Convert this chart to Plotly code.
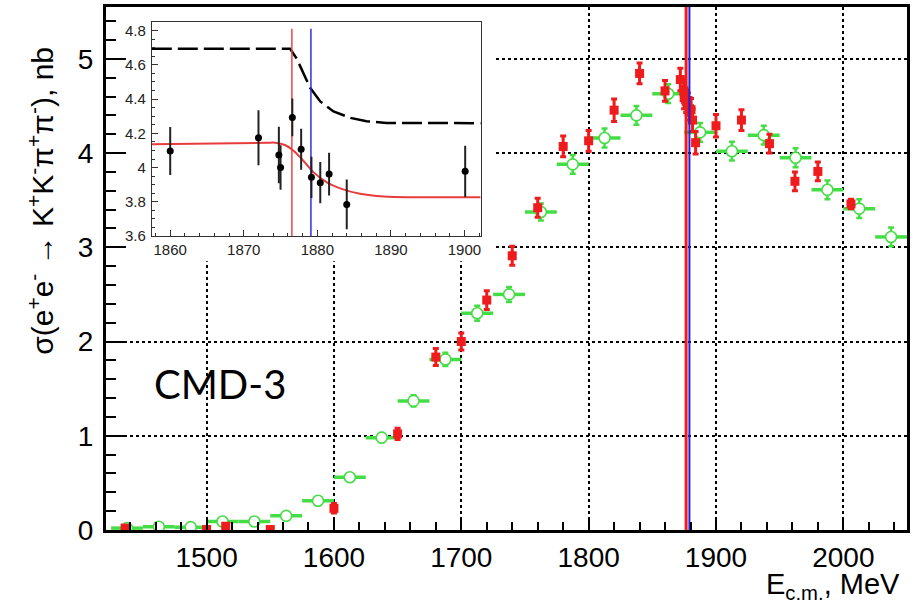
import plotly.graph_objects as go

# ---------------- data ----------------
# green: binned measurement (25 MeV bins), open circles
green_E = [1437.5, 1462.5, 1487.5, 1512.5, 1537.5, 1562.5, 1587.5, 1612.5, 1637.5,
           1662.5, 1687.5, 1712.5, 1737.5, 1762.5, 1787.5, 1812.5, 1837.5, 1862.5,
           1887.5, 1912.5, 1937.5, 1962.5, 1987.5, 2012.5, 2037.5]
green_sigma = [0.02, 0.035, 0.03, 0.09, 0.09, 0.15, 0.31, 0.56, 0.98,
               1.37, 1.81, 2.30, 2.50, 3.375, 3.88, 4.16, 4.40, 4.63,
               4.22, 4.02, 4.19, 3.95, 3.61, 3.41, 3.11]
green_err = [0.01, 0.01, 0.01, 0.02, 0.02, 0.02, 0.03, 0.04, 0.05,
             0.06, 0.07, 0.08, 0.08, 0.09, 0.10, 0.10, 0.10, 0.10,
             0.10, 0.10, 0.10, 0.10, 0.10, 0.10, 0.10]
green_halfbin = [12.5] * len(green_E)

# red: CMD-3 points
red_E = [1436, 1500, 1515, 1550, 1600, 1650, 1680, 1700, 1720, 1740, 1760, 1780,
         1800, 1820, 1840, 1860, 1872, 1874.8, 1875.0, 1876.6, 1877.8, 1879.2,
         1880.4, 1881.6, 1884.0, 1900, 1920, 1942, 1962, 1980, 2006]
red_sigma = [0.02, 0.005, 0.04, 0.005, 0.23, 1.02, 1.835, 2.0, 2.44, 2.91, 3.42, 4.07,
             4.13, 4.455, 4.845, 4.66, 4.78, 4.66, 4.59, 4.55, 4.52, 4.47,
             4.46, 4.35, 4.11, 4.29, 4.35, 4.10, 3.70, 3.805, 3.46]
red_err = [0.02, 0.01, 0.03, 0.01, 0.05, 0.06, 0.09, 0.09, 0.10, 0.10, 0.10, 0.11,
           0.11, 0.12, 0.11, 0.11, 0.12, 0.12, 0.12, 0.12, 0.12, 0.12,
           0.12, 0.12, 0.12, 0.12, 0.11, 0.10, 0.10, 0.10, 0.05]

# thresholds (2 m_p, 2 m_n), MeV
thr_pp = 1876.54
thr_nn = 1879.13

# inset points
ins_E = [1860.0, 1872.0, 1874.77, 1875.0, 1876.6, 1877.8, 1879.2, 1880.4, 1881.6, 1884.0, 1900.1]
ins_sigma = [4.097, 4.174, 4.074, 4.00, 4.293, 4.107, 3.943, 3.912, 3.962, 3.785, 3.978]
ins_err = [0.14, 0.16, 0.165, 0.13, 0.11, 0.12, 0.12, 0.12, 0.125, 0.145, 0.15]

# inset fit curve (red)
fit_E = [1857.5, 1873.1, 1874.3, 1875.6, 1876.8, 1878.1, 1879.5, 1881.3, 1883.1,
         1885.8, 1889.0, 1893.5, 1902.2]
fit_sigma = [4.136, 4.145, 4.145, 4.132, 4.097, 4.04, 3.972, 3.914, 3.879,
             3.847, 3.831, 3.827, 3.827]

# inset dashed curve (black)
dash_E = [1857.5, 1876.3, 1877.2, 1878.1, 1879.0, 1880.4, 1882.2, 1884.5, 1886.7,
          1889.4, 1902.2]
dash_sigma = [4.694, 4.694, 4.636, 4.55, 4.467, 4.386, 4.328, 4.29, 4.27,
              4.261, 4.259]

x_range = [1421, 2050]
y_range = [0, 5.55]
ins_x_range = [1857.5, 1902.2]
ins_y_range = [3.6, 4.85]
ins_vline_top = 4.81

GREEN = "#45dd45"
RED = "#ee1c1c"
BLUE = "#2020dd"
FONT = "Liberation Sans"

# white pad behind the inset (fraction of main plot area)
pad_fx, pad_fy = 0.4863, 0.514
pad_x1 = x_range[0] + pad_fx * (x_range[1] - x_range[0])
pad_y0 = y_range[0] + pad_fy * (y_range[1] - y_range[0])

fig = go.Figure()

# white pad (covers main gridlines under the inset)
fig.add_trace(go.Scatter(
    x=[x_range[0], pad_x1, pad_x1, x_range[0], x_range[0]],
    y=[pad_y0, pad_y0, y_range[1], y_range[1], pad_y0],
    mode="lines", fill="toself", fillcolor="white", line=dict(width=0, color="white"),
    hoverinfo="skip", xaxis="x", yaxis="y", showlegend=False))

# green points
fig.add_trace(go.Scatter(
    x=green_E, y=green_sigma, mode="markers",
    marker=dict(symbol="circle", size=11, color="white",
                line=dict(color=GREEN, width=1.6)),
    error_x=dict(type="data", array=green_halfbin, color=GREEN, thickness=3.5, width=0),
    error_y=dict(type="data", array=green_err, color=GREEN, thickness=2.5, width=3),
    xaxis="x", yaxis="y", showlegend=False))

# red points
fig.add_trace(go.Scatter(
    x=red_E, y=red_sigma, mode="markers",
    marker=dict(symbol="square", size=9, color=RED, line=dict(width=0)),
    error_y=dict(type="data", array=red_err, color=RED, thickness=3, width=3),
    xaxis="x", yaxis="y", showlegend=False))

# threshold lines on main plot
fig.add_trace(go.Scatter(
    x=[thr_pp, thr_pp], y=y_range, mode="lines", line=dict(color=RED, width=3),
    xaxis="x", yaxis="y", showlegend=False, hoverinfo="skip"))
fig.add_trace(go.Scatter(
    x=[thr_nn, thr_nn], y=y_range, mode="lines", line=dict(color=BLUE, width=2),
    xaxis="x", yaxis="y", showlegend=False, hoverinfo="skip"))

# inset curves
fig.add_trace(go.Scatter(
    x=dash_E, y=dash_sigma, mode="lines",
    line=dict(color="black", width=2.5, dash="20px,6px"),
    xaxis="x2", yaxis="y2", showlegend=False))
fig.add_trace(go.Scatter(
    x=fit_E, y=fit_sigma, mode="lines", line=dict(color="#e83c3c", width=2, shape="spline"),
    xaxis="x2", yaxis="y2", showlegend=False))
fig.add_trace(go.Scatter(
    x=[thr_pp, thr_pp], y=[ins_y_range[0], ins_vline_top], mode="lines",
    line=dict(color="#ee4444", width=1.5), xaxis="x2", yaxis="y2", showlegend=False))
fig.add_trace(go.Scatter(
    x=[thr_nn, thr_nn], y=[ins_y_range[0], ins_vline_top], mode="lines",
    line=dict(color="#3030dd", width=1.5), xaxis="x2", yaxis="y2", showlegend=False))
fig.add_trace(go.Scatter(
    x=ins_E, y=ins_sigma, mode="markers",
    marker=dict(symbol="circle", size=7, color="black"),
    error_y=dict(type="data", array=ins_err, color="#222222", thickness=2, width=0),
    xaxis="x2", yaxis="y2", showlegend=False))

annotations = [
    dict(text="CMD-3", xref="paper", yref="paper", x=0.058, y=0.28, xanchor="left",
         yanchor="middle", showarrow=False, font=dict(family="Lato", size=40, color="black")),
    dict(text="E<sub>c.m.</sub>, MeV", xref="paper", yref="paper", x=0.9938, y=-0.108,
         xanchor="right", yanchor="middle", showarrow=False,
         font=dict(family=FONT, size=29, color="black")),
    dict(text="σ(e<sup>+</sup>e<sup>-</sup> → K<sup>+</sup>K<sup>-</sup>π<sup>+</sup>π<sup>-</sup>), nb",
         xref="paper", yref="paper", x=-0.082, y=0.63, xanchor="center", yanchor="middle",
         textangle=-90, showarrow=False, font=dict(family=FONT, size=30, color="black")),
]

fig.update_layout(
    width=914, height=605,
    margin=dict(l=106, r=4, t=5, b=75),
    paper_bgcolor="white", plot_bgcolor="white",
    annotations=annotations,
    xaxis=dict(range=x_range, domain=[0, 1], showline=True, linewidth=3, linecolor="black",
               mirror=True, ticks="inside", ticklen=13, tickwidth=1.5, tickcolor="black",
               tick0=1500, dtick=100, tickfont=dict(family=FONT, size=28, color="black"),
               showgrid=True, gridcolor="black", griddash="dot", gridwidth=1.5,
               zeroline=False, ticklabelstandoff=0,
               minor=dict(dtick=20, ticklen=8, ticks="inside", tickwidth=1.5,
                          tickcolor="black", showgrid=False)),
    yaxis=dict(range=y_range, domain=[0, 1], showline=True, linewidth=3, linecolor="black",
               mirror=True, ticks="inside", ticklen=20, tickwidth=1.5, tickcolor="black",
               tick0=0, dtick=1, tickfont=dict(family=FONT, size=28, color="black"),
               showgrid=True, gridcolor="black", griddash="dot", gridwidth=1.5,
               zeroline=False, ticklabelstandoff=4,
               minor=dict(dtick=0.2, ticklen=10, ticks="inside", tickwidth=1.5,
                          tickcolor="black", showgrid=False)),
    xaxis2=dict(range=ins_x_range, domain=[0.0572, 0.4677], anchor="y2",
                showline=True, linewidth=1, linecolor="#333333", mirror=True,
                ticks="inside", ticklen=6, tickwidth=1, tickcolor="#333333",
                tick0=1860, dtick=10, tickfont=dict(family=FONT, size=15, color="#222222"),
                showgrid=False, zeroline=False, ticklabelstandoff=0,
                minor=dict(dtick=2, ticklen=3, ticks="inside", tickcolor="#333333")),
    yaxis2=dict(range=ins_y_range, domain=[0.5619, 0.9714], anchor="x2",
                showline=True, linewidth=1, linecolor="#333333", mirror=True,
                ticks="inside", ticklen=6, tickwidth=1, tickcolor="#333333",
                tick0=3.6, dtick=0.2, tickfont=dict(family=FONT, size=15, color="#222222"),
                showgrid=False, zeroline=False, ticklabelstandoff=2,
                minor=dict(dtick=0.05, ticklen=3, ticks="inside", tickcolor="#333333")),
)

fig.write_html("out.html", config={"displayModeBar": False},
               post_script="document.body.style.margin='0';")
